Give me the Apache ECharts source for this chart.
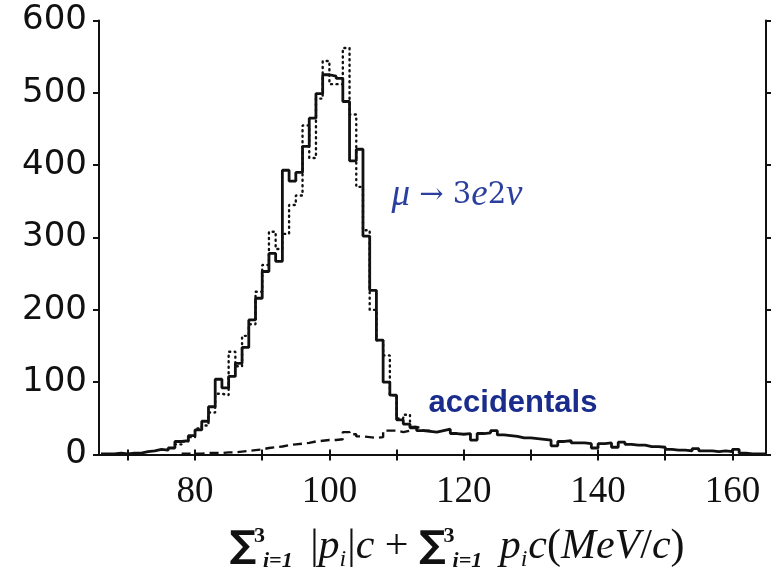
<!DOCTYPE html>
<html>
<head>
<meta charset="utf-8">
<script src="https://cdn.jsdelivr.net/npm/echarts@6/dist/echarts.min.js"></script>
<style>
  html, body { margin: 0; padding: 0; background: #fff; }
  #chart { width: 774px; height: 568px; }
</style>
</head>
<body>
<div id="chart"></div>
<script>
// histogram bins are 1 MeV/c wide; *Start is the left edge of the first bin
const solidStart = 66
const solidCounts = [
  1, 1, 2, 1, 2, 2, 4, 5, 7, 6,
  9, 18, 19, 26, 34, 46, 66, 104, 92, 108,
  126, 148, 186, 216, 253, 278, 267, 393, 378, 390,
  426, 465, 499, 525, 523, 520, 488, 406, 422, 302,
  227, 158, 100, 82, 48, 42, 37, 33, 32, 31,
  33, 35, 29, 28, 29, 20, 29, 30, 33, 27,
  26, 25, 23, 23, 22, 21, 20, 12, 18, 19,
  16, 16, 15, 9, 15, 16, 10, 17, 14, 13,
  13, 11, 11, 10, 7, 6, 6, 5, 8, 5,
  5, 4, 5, 4, 7, 2, 1, 1, 1
]

// dotted histogram (only where it leaves the solid one)
const dottedStart = 77
const dottedCounts = [
  14, 18, 24, 36, 40, 58, 84, 82, 142, 122,
  164, 180, 225, 262, 308, 284, 305, 345, 358, 455,
  410, 492, 544, 512, 512, 562, 470, 370, 310, 200,
  158, 137, 82, 50, 55, 38
]

// accidentals (dashed)
const accStart = 78
const accCounts = [
  1, 1, 1, 2, 2, 2, 3, 3, 4, 5,
  6, 7, 9, 10, 11, 13, 14, 15, 16, 18,
  19, 20, 20, 21, 31, 28, 25, 24, 23, 24,
  33, 33, 31, 33, 38, 36, 33
]

const xTicks = [70, 80, 90, 100, 110, 120, 130, 140, 150, 160]
const xLabels = [80, 100, 120, 140, 160]

// left edge of every bin plus the right edge of the last one, drawn with step:'end'
const toSteps = (start, counts) => {
  const pts = counts.map((c, i) => [start + i, c])
  pts.push([start + counts.length, counts[counts.length - 1]])
  return pts
}

const ink = '#111'
const chart = echarts.init(document.getElementById('chart'))

const boxAxis = {
  axisLine: { show: true, lineStyle: { color: ink, width: 2 } },
  splitLine: { show: false }
}

chart.setOption({
  animation: false,
  grid: { left: 99, right: 8, top: 20.5, bottom: 113.5 },
  xAxis: [
    {
      ...boxAxis,
      type: 'value', min: 65.7, max: 165, position: 'bottom',
      axisTick: { show: true, customValues: xTicks, length: 6, lineStyle: { color: ink, width: 2 } },
      axisLabel: {
        customValues: xLabels, margin: 19, color: ink,
        fontFamily: 'Liberation Serif', fontSize: 37
      }
    },
    {
      ...boxAxis,
      type: 'value', min: 65.7, max: 165, position: 'top',
      axisTick: { show: true, customValues: xTicks, length: 5, lineStyle: { color: ink, width: 2 } },
      axisLabel: { show: false }
    }
  ],
  yAxis: [
    {
      ...boxAxis,
      type: 'value', min: 0, max: 600, interval: 100, position: 'left',
      axisTick: { show: true, length: 6, lineStyle: { color: ink, width: 2 } },
      axisLabel: { margin: 12, color: ink, fontFamily: 'DejaVu Sans', fontSize: 34 }
    },
    {
      ...boxAxis,
      type: 'value', min: 0, max: 600, interval: 100, position: 'right',
      axisTick: { show: true, length: 5, lineStyle: { color: ink, width: 2 } },
      axisLabel: { show: false }
    }
  ],
  series: [
    {
      name: 'dotted', type: 'line', step: 'end', showSymbol: false, z: 2,
      data: toSteps(dottedStart, dottedCounts),
      lineStyle: { color: ink, width: 2.4, type: [1, 4.5], cap: 'round' }
    },
    {
      name: 'accidentals', type: 'line', step: 'end', showSymbol: false, z: 3,
      data: toSteps(accStart, accCounts),
      lineStyle: { color: ink, width: 2.4, type: [9, 5] }
    },
    {
      name: 'signal', type: 'line', step: 'end', showSymbol: false, z: 4,
      data: toSteps(solidStart, solidCounts),
      lineStyle: { color: ink, width: 2.8 }
    }
  ],
  graphic: [
    {
      type: 'text', x: 457, y: 195,
      style: {
        text: '{it|μ}{r| → 3}{it|e}{r|2}{it|ν}',
        align: 'center', verticalAlign: 'middle', fill: '#2b3f9e',
        rich: {
          it: { fontFamily: 'Liberation Serif', fontStyle: 'italic', fontSize: 37, fill: '#2b3f9e' },
          r: { fontFamily: 'DejaVu Serif', fontSize: 29, fill: '#2b3f9e' }
        }
      }
    },
    {
      type: 'text', x: 513, y: 403,
      style: {
        text: 'accidentals', align: 'center', verticalAlign: 'middle',
        fill: '#1a2d8c', font: 'bold 31px "Liberation Sans"'
      }
    },
    {
      type: 'text', x: 457, y: 547,
      style: {
        text: '{sig|∑}{sup|3}{sub|i=1}{r| |}{it|p}{isub|i}{r||}{it|c}{r| + }{sig|∑}{sup|3}{sub|i=1}{r| }{it|p}{isub|i}{it|c}{r|(}{it|MeV}{r|/}{it|c}{r|)}',
        align: 'center', verticalAlign: 'middle', fill: ink,
        rich: {
          sig: { fontFamily: 'DejaVu Sans', fontWeight: 'bold', fontSize: 37, lineHeight: 50, fill: ink },
          sup: { fontFamily: 'Liberation Serif', fontWeight: 'bold', fontSize: 22, width: 1, verticalAlign: 'top', padding: [3, 0, 0, 3], fill: ink },
          sub: { fontFamily: 'Liberation Serif', fontStyle: 'italic', fontWeight: 'bold', fontSize: 22, verticalAlign: 'bottom', padding: [0, 7, 0, 3], fill: ink },
          it: { fontFamily: 'Liberation Serif', fontStyle: 'italic', fontSize: 42, fill: ink },
          isub: { fontFamily: 'Liberation Serif', fontStyle: 'italic', fontSize: 24, verticalAlign: 'bottom', padding: [0, 1, 0, 0], fill: ink },
          r: { fontFamily: 'Liberation Serif', fontSize: 42, fill: ink }
        }
      }
    }
  ]
})
</script>
</body>
</html>
